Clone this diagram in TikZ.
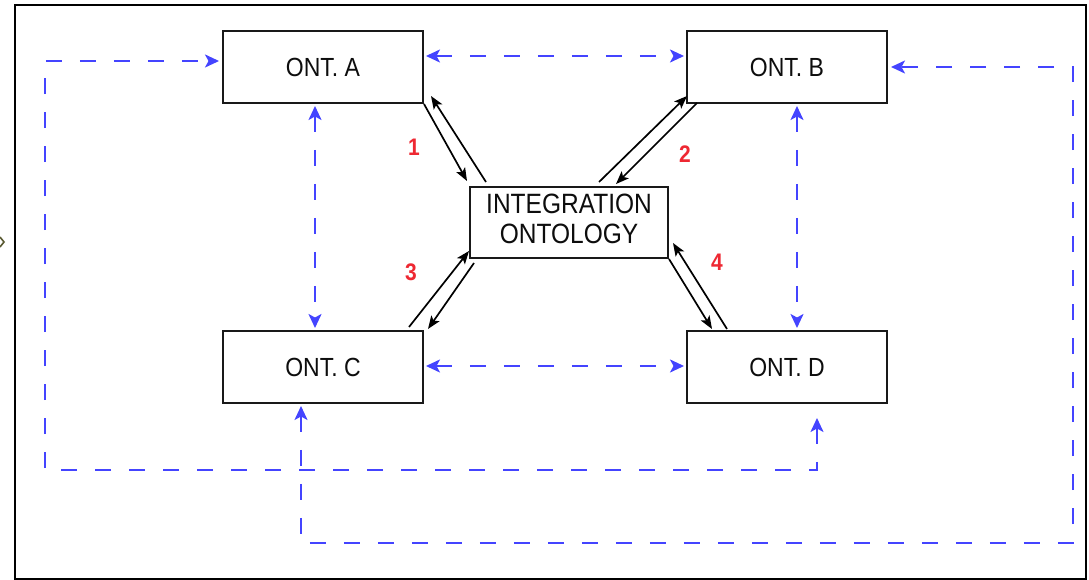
\documentclass[tikz,border=0pt]{standalone}
\usepackage{fontspec}
\setmainfont{Liberation Sans}
\usetikzlibrary{arrows.meta,calc}
\definecolor{dblue}{RGB}{68,68,255}
\definecolor{numred}{RGB}{238,40,50}
\definecolor{boxline}{RGB}{25,25,25}
\definecolor{olivec}{RGB}{90,90,50}
\newcommand{\vst}[1]{\scalebox{1}[1.14]{#1}}
\begin{document}
\begin{tikzpicture}[x=1pt,y=-1pt,
  box/.style={draw=boxline, line width=2pt, minimum width=200pt, minimum height=72pt, inner sep=0pt, text=black!95,
    font=\fontsize{23}{26}\selectfont},
  ibox/.style={draw=boxline, line width=2pt, minimum width=198pt, minimum height=71pt, inner sep=0pt, text=black!95,
    font=\fontsize{24.5}{26.3}\selectfont},
  link/.style={draw=dblue, line width=2pt, dash pattern=on 16pt off 18pt,
    arrows={Stealth[length=14pt,width=13pt,inset=3.5pt]-Stealth[length=14pt,width=13pt,inset=3.5pt]}},
  flow/.style={draw=black, line width=1.7pt, -{Stealth[length=13pt,width=10pt,inset=3pt]}},
  num/.style={text=numred, font=\fontsize{21}{22}\selectfont\bfseries, inner sep=0pt}
]
\useasboundingbox (0,0) rectangle (1089,580);
\fill[white] (0,0) rectangle (1089,580);
\draw[black, line width=1.5pt] (15,5) rectangle (1086,579);
\draw[olivec, line width=1.6pt] (0,237) -- (4,242) -- (0,247);

\node[box] (A) at (323,67) {\vst{ONT. A}};
\node[box] (B) at (787,67) {\vst{ONT. B}};
\node[box] (C) at (323,367) {\vst{ONT. C}};
\node[box] (D) at (787,367) {\vst{ONT. D}};
\node[ibox] (I) at (569,222.5) {\vst{\begin{tabular}{@{}c@{}}INTEGRATION\\ONTOLOGY\end{tabular}}};

% blue dashed links
\draw[link] ($(A.east)+(2,-11)$) -- ($(B.west)+(-2,-11)$);
\draw[link] ($(C.east)+(2,-1)$) -- ($(D.west)+(-2,-1)$);
\draw[link] ($(A.south)+(-8,2)$) -- ($(C.north)+(-8,-2)$);
\draw[link] ($(B.south)+(10,2)$) -- ($(D.north)+(10,-2)$);

% outer loops
\coordinate (l1a) at (817,470);
\coordinate (l1b) at (45,470);
\coordinate (l1c) at (45,61);
\draw[link] ($(D.south)+(30,14)$) -- (l1a) -- (l1b) -- (l1c) -- ($(A.west)+(-3,-6)$);
\coordinate (l2a) at (301,543);
\coordinate (l2b) at (1073,543);
\coordinate (l2c) at (1073,67);
\draw[link] ($(C.south)+(-22,2)$) -- (l2a) -- (l2b) -- (l2c) -- ($(B.east)+(3,0)$);

% black flows
\draw[flow] (A.south east) -- ($(I.north west)+(-2,-5)$);
\draw[flow] ($(I.north west)+(17,-4)$) -- ($(A.south east)+(7,-8)$);
\draw[flow] ($(I.north west)+(130,-4)$) -- ($(B.south west)+(1,-8)$);
\draw[flow] ($(B.south west)+(11,-1)$) -- ($(I.north west)+(147,-2)$);
\draw[flow] ($(C.north east)+(-15,-3)$) -- ($(I.south west)+(0,-8)$);
\draw[flow] ($(I.south west)+(5,4)$) -- ($(C.north east)+(4,-1)$);
\draw[flow] (I.south east) -- ($(D.north west)+(26,-1)$);
\draw[flow] ($(D.north west)+(41,-1)$) -- ($(I.south east)+(4,-16)$);

% labels
\node[num] (n1) at (414,147) {\vst{1}};
\node[num] (n2) at (685,154) {\vst{2}};
\node[num] (n3) at (411,272) {\vst{3}};
\node[num] (n4) at (717,262) {\vst{4}};
\end{tikzpicture}
\end{document}
